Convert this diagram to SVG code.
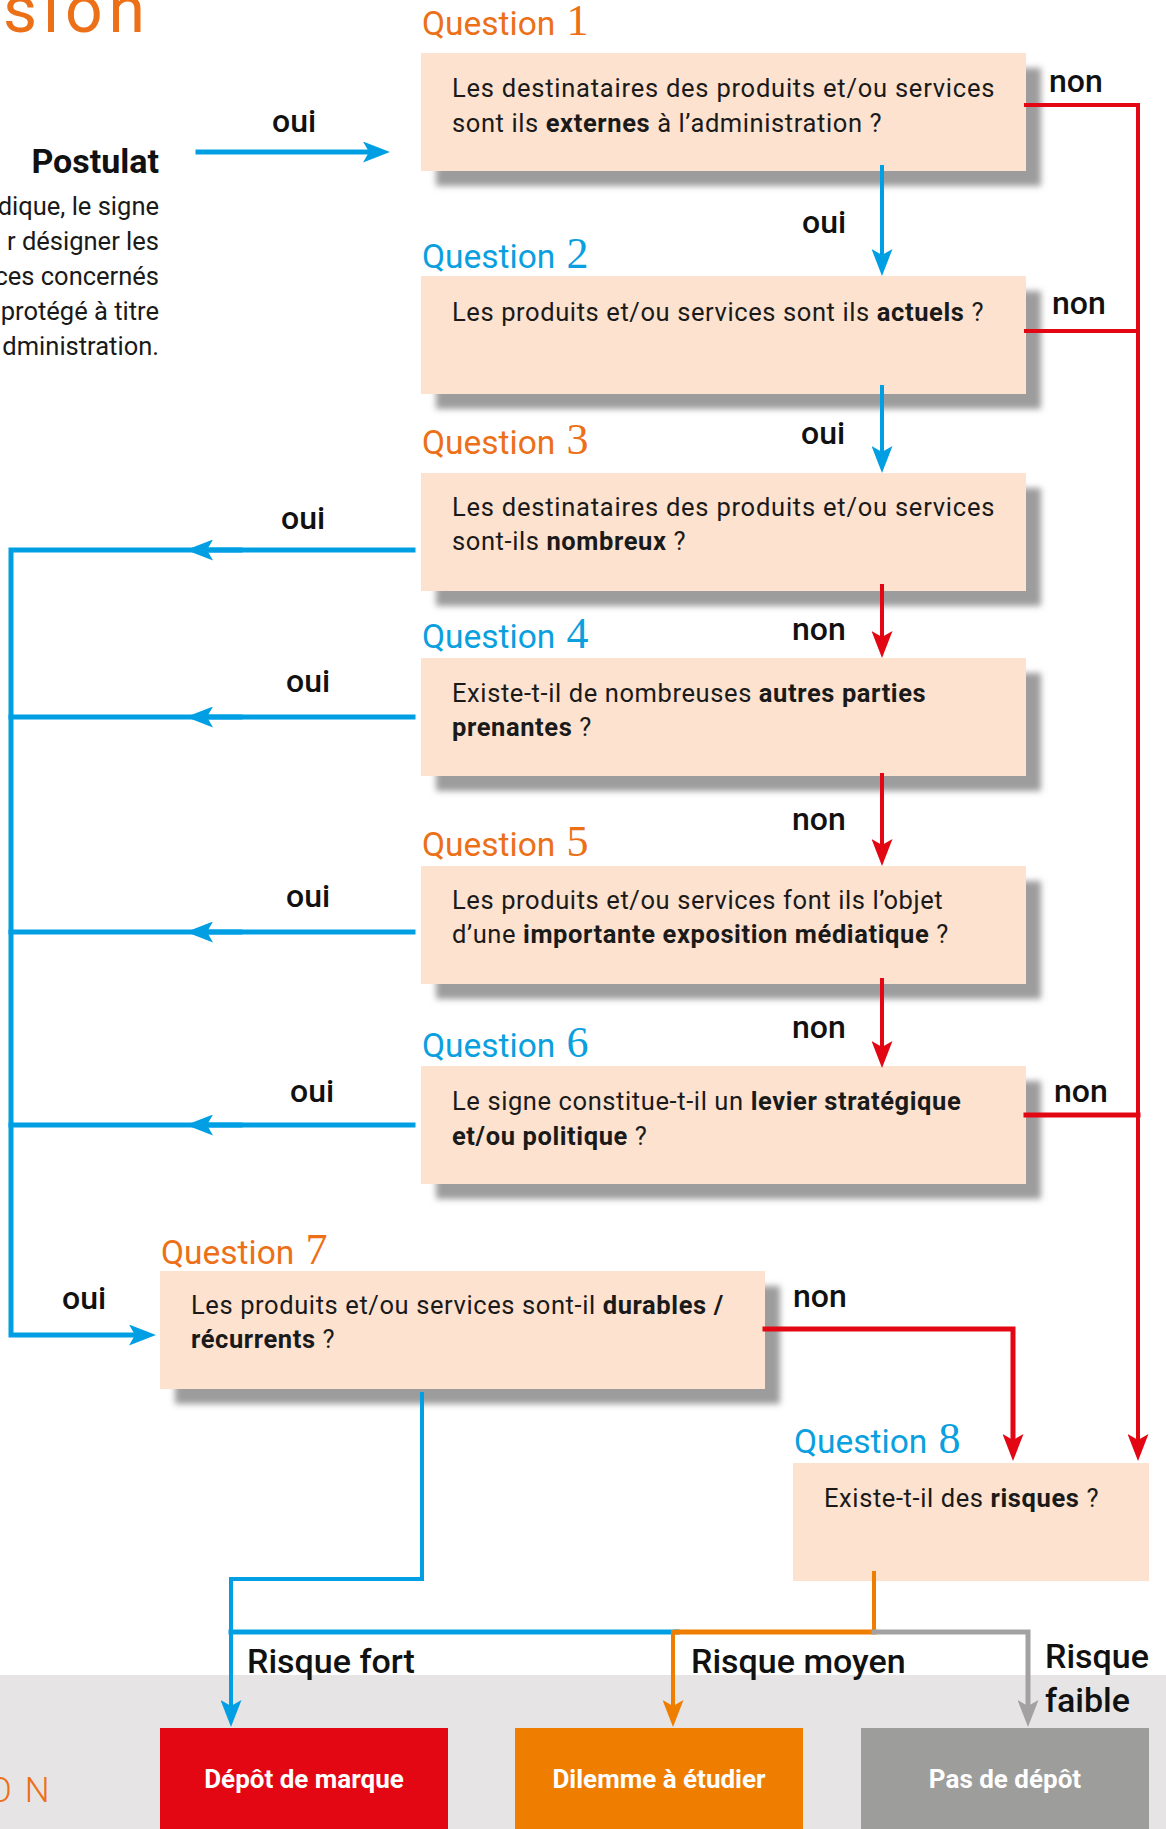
<svg xmlns="http://www.w3.org/2000/svg" width="1166" height="1829" viewBox="0 0 1166 1829">
<defs>
<style>
.box{fill:#FCE2CF}
.shadow{fill:#9C9C9C;filter:url(#blur)}
.q{font-family:Roboto,"Liberation Sans",sans-serif;font-size:33.5px}
.qo{fill:#EC7018}
.qb{fill:#0A9FDF}
.num{font-family:"Liberation Serif","DejaVu Serif",serif;font-size:44px}
.t{font-family:Roboto,"Liberation Sans",sans-serif;font-size:25.5px;fill:#1a1a1a;letter-spacing:0.6px}
.b{font-weight:700}
.lab{font-family:Roboto,"Liberation Sans",sans-serif;font-size:32px;font-weight:500;fill:#111}
.risk{font-family:Roboto,"Liberation Sans",sans-serif;font-size:34px;font-weight:500;fill:#111}
.out{font-family:Roboto,"Liberation Sans",sans-serif;font-size:26px;font-weight:700;fill:#fff;text-anchor:middle}
.para{font-family:Roboto,"Liberation Sans",sans-serif;font-size:25.5px;fill:#1a1a1a;text-anchor:end}
.ln{fill:none;stroke-linecap:square;stroke-linejoin:miter}
.blue{stroke:#009FE3}
.red{stroke:#E30613}
.orange{stroke:#EF7D00}
.grey{stroke:#A3A1A2}
.w5{stroke-width:5}
.w4{stroke-width:4}
</style>
<filter id="blur" x="-10%" y="-20%" width="120%" height="140%"><feGaussianBlur stdDeviation="3"/></filter>
<marker id="ab" viewBox="0 0 27 21" refX="12" refY="10.5" markerWidth="27" markerHeight="21" markerUnits="userSpaceOnUse" orient="auto"><path d="M0,0 L27,10.5 L0,21 L6,10.5 Z" fill="#009FE3"/></marker>
<marker id="ar" viewBox="0 0 27 21" refX="12" refY="10.5" markerWidth="27" markerHeight="21" markerUnits="userSpaceOnUse" orient="auto"><path d="M0,0 L27,10.5 L0,21 L6,10.5 Z" fill="#E30613"/></marker>
<marker id="ao" viewBox="0 0 27 21" refX="12" refY="10.5" markerWidth="27" markerHeight="21" markerUnits="userSpaceOnUse" orient="auto"><path d="M0,0 L27,10.5 L0,21 L6,10.5 Z" fill="#EF7D00"/></marker>
<marker id="ag" viewBox="0 0 27 21" refX="12" refY="10.5" markerWidth="27" markerHeight="21" markerUnits="userSpaceOnUse" orient="auto"><path d="M0,0 L27,10.5 L0,21 L6,10.5 Z" fill="#A3A1A2"/></marker>
</defs>
<rect x="0" y="0" width="1166" height="1829" fill="#fff"/>
<rect x="0" y="1675" width="1166" height="154" fill="#E6E4E5"/>

<g id="title">
<text x="3" y="32" font-family="Roboto,'Liberation Sans',sans-serif" font-size="66" font-weight="400" fill="#EC7018" textLength="142" lengthAdjust="spacing">sion</text>
<text x="-12" y="1802" font-family="Roboto,'Liberation Sans',sans-serif" font-size="35" font-weight="300" fill="#EC7018" letter-spacing="13">ON</text>
</g>

<g id="postulat">
<text x="159" y="173" font-family="Roboto,'Liberation Sans',sans-serif" font-size="34" font-weight="700" fill="#111" text-anchor="end">Postulat</text>
<text class="para" x="159" y="215">dique, le signe</text>
<text class="para" x="159" y="250">r désigner les</text>
<text class="para" x="159" y="285">ces concernés</text>
<text class="para" x="159" y="320">protégé à titre</text>
<text class="para" x="159" y="355">dministration.</text>
</g>

<g id="q1">
<rect class="shadow" x="436" y="68" width="605" height="118"/>
<rect class="box" x="421" y="53" width="605" height="118"/>
<text class="q qo" x="422" y="35">Question <tspan class="num" dx="3">1</tspan></text>
<text class="t" x="452" y="97" textLength="543" lengthAdjust="spacing">Les destinataires des produits et/ou services</text>
<text class="t" x="452" y="132">sont ils <tspan class="b">externes</tspan> à l’administration ?</text>
</g>

<g id="q2">
<rect class="shadow" x="436" y="291" width="605" height="118"/>
<rect class="box" x="421" y="276" width="605" height="118"/>
<text class="q qb" x="422" y="268">Question <tspan class="num" dx="3">2</tspan></text>
<text class="t" x="452" y="321">Les produits et/ou services sont ils <tspan class="b">actuels</tspan> ?</text>
</g>

<g id="q3">
<rect class="shadow" x="436" y="488" width="605" height="118"/>
<rect class="box" x="421" y="473" width="605" height="118"/>
<text class="q qo" x="422" y="454">Question <tspan class="num" dx="3">3</tspan></text>
<text class="t" x="452" y="516" textLength="543" lengthAdjust="spacing">Les destinataires des produits et/ou services</text>
<text class="t" x="452" y="550">sont-ils <tspan class="b">nombreux</tspan> ?</text>
</g>

<g id="q4">
<rect class="shadow" x="436" y="673" width="605" height="118"/>
<rect class="box" x="421" y="658" width="605" height="118"/>
<text class="q qb" x="422" y="648">Question <tspan class="num" dx="3">4</tspan></text>
<text class="t" x="452" y="702">Existe-t-il de nombreuses <tspan class="b">autres parties</tspan></text>
<text class="t" x="452" y="736"><tspan class="b">prenantes</tspan> ?</text>
</g>

<g id="q5">
<rect class="shadow" x="436" y="881" width="605" height="118"/>
<rect class="box" x="421" y="866" width="605" height="118"/>
<text class="q qo" x="422" y="856">Question <tspan class="num" dx="3">5</tspan></text>
<text class="t" x="452" y="909">Les produits et/ou services font ils l’objet</text>
<text class="t" x="452" y="943">d’une <tspan class="b">importante exposition médiatique</tspan> ?</text>
</g>

<g id="q6">
<rect class="shadow" x="436" y="1081" width="605" height="118"/>
<rect class="box" x="421" y="1066" width="605" height="118"/>
<text class="q qb" x="422" y="1057">Question <tspan class="num" dx="3">6</tspan></text>
<text class="t" x="452" y="1110">Le signe constitue-t-il un <tspan class="b">levier stratégique</tspan></text>
<text class="t" x="452" y="1145"><tspan class="b">et/ou politique</tspan> ?</text>
</g>

<g id="q7">
<rect class="shadow" x="175" y="1286" width="605" height="118"/>
<rect class="box" x="160" y="1271" width="605" height="118"/>
<text class="q qo" x="161" y="1264">Question <tspan class="num" dx="3">7</tspan></text>
<text class="t" x="191" y="1314">Les produits et/ou services sont-il <tspan class="b">durables /</tspan></text>
<text class="t" x="191" y="1348"><tspan class="b">récurrents</tspan> ?</text>
</g>

<g id="q8">
<rect class="box" x="793" y="1463" width="356" height="118"/>
<text class="q qb" x="794" y="1453">Question <tspan class="num" dx="3">8</tspan></text>
<text class="t" x="824" y="1507">Existe-t-il des <tspan class="b">risques</tspan> ?</text>
</g>

<g id="out-depot">
<rect x="160" y="1728" width="288" height="101" fill="#E30613"/>
<text class="out" x="304" y="1788">Dépôt de marque</text>
</g>
<g id="out-dilemme">
<rect x="515" y="1728" width="288" height="101" fill="#EF7D00"/>
<text class="out" x="659" y="1788">Dilemme à étudier</text>
</g>
<g id="out-pas">
<rect x="861" y="1728" width="288" height="101" fill="#9D9D9C"/>
<text class="out" x="1005" y="1788">Pas de dépôt</text>
</g>

<g id="connectors">
<path class="ln blue w5" d="M198,152 H375" marker-end="url(#ab)"/>
<path class="ln blue w4" d="M882,167 V261" marker-end="url(#ab)"/>
<path class="ln blue w4" d="M882,387 V458" marker-end="url(#ab)"/>
<path class="ln red w4" d="M882,586 V643" marker-end="url(#ar)"/>
<path class="ln red w4" d="M882,775 V851" marker-end="url(#ar)"/>
<path class="ln red w4" d="M882,980 V1053" marker-end="url(#ar)"/>
<path class="ln red w4" d="M1026,105 H1138 V1446" marker-end="url(#ar)"/>
<path class="ln red w4" d="M1026,331 H1138"/>
<path class="ln red w5" d="M1026,1115 H1138"/>
<path class="ln red w5" d="M765,1329 H1013 V1446" marker-end="url(#ar)"/>
<path class="ln blue w5" d="M413,550 H11 V1335 H141" marker-end="url(#ab)"/>
<path class="ln blue w5" d="M413,717 H11"/>
<path class="ln blue w5" d="M413,932 H11"/>
<path class="ln blue w5" d="M413,1125 H11"/>
<path class="ln blue w5" d="M240,550 H201" marker-end="url(#ab)"/>
<path class="ln blue w5" d="M240,717 H201" marker-end="url(#ab)"/>
<path class="ln blue w5" d="M240,932 H201" marker-end="url(#ab)"/>
<path class="ln blue w5" d="M240,1125 H201" marker-end="url(#ab)"/>
<path class="ln blue w4" d="M422,1394 V1579 H231 V1712" marker-end="url(#ab)"/>
<path class="ln blue w5" d="M231,1632 H677"/>
<path class="ln orange w4" d="M874,1573 V1632"/>
<path class="ln orange w5" d="M874,1632 H677"/>
<path class="ln orange w4" d="M673,1632 V1712" marker-end="url(#ao)"/>
<path class="ln grey w5" d="M874,1632 H1028 V1712" marker-end="url(#ag)"/>
</g>

<g id="labels">
<text class="lab b" x="272" y="132">oui</text>
<text class="lab" x="802" y="233">oui</text>
<text class="lab" x="801" y="444">oui</text>
<text class="lab" x="1049" y="92">non</text>
<text class="lab" x="1052" y="314">non</text>
<text class="lab" x="1054" y="1102">non</text>
<text class="lab" x="792" y="640">non</text>
<text class="lab" x="792" y="830">non</text>
<text class="lab" x="792" y="1038">non</text>
<text class="lab" x="793" y="1307">non</text>
<text class="lab" x="281" y="529">oui</text>
<text class="lab" x="286" y="692">oui</text>
<text class="lab" x="286" y="907">oui</text>
<text class="lab" x="290" y="1102">oui</text>
<text class="lab" x="62" y="1309">oui</text>
<text class="risk" x="247" y="1673">Risque fort</text>
<text class="risk" x="691" y="1673">Risque moyen</text>
<text class="risk" x="1045" y="1668">Risque</text>
<text class="risk" x="1045" y="1712">faible</text>
</g>
</svg>
